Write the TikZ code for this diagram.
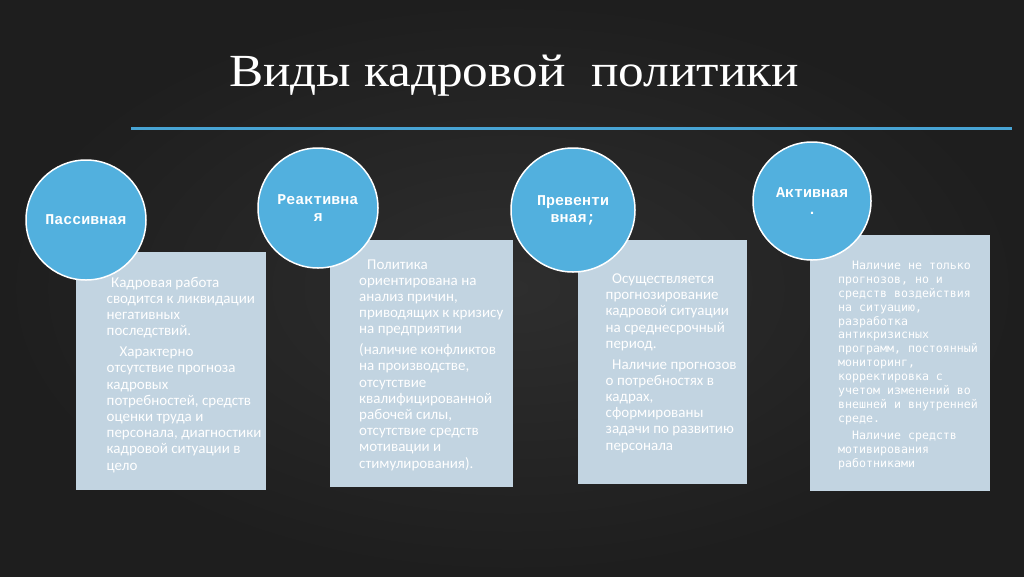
\documentclass[tikz,border=0pt]{standalone}
\usepackage{fontspec}
\newfontfamily\ttlfont{Liberation Serif}
\newfontfamily\cardfont{Carlito}
\newfontfamily\cardmono{DejaVu Sans Mono}
\newfontfamily\circfont{Liberation Mono}
\definecolor{chalkbg}{RGB}{46,46,46}
\definecolor{chalkedge}{RGB}{30,30,30}
\definecolor{discblue}{RGB}{82,176,222}
\definecolor{cardblue}{RGB}{194,212,225}
\definecolor{ruleblue}{RGB}{72,164,212}
\tikzset{
  disc/.style={circle, fill=discblue, draw=white, line width=1.5pt, minimum size=120pt,
    inner sep=0pt, text=white, align=center, font=\circfont\bfseries\fontsize{15}{17}\selectfont},
  card/.style={rectangle, fill=cardblue, inner sep=0pt, anchor=north west},
  cardtext/.style={text=white, align=left, inner sep=0pt, anchor=base west,
    font=\cardfont\fontsize{15}{16.2}\selectfont},
  monotext/.style={text=white, align=left, inner sep=0pt, anchor=base west,
    font=\cardmono\fontsize{11.6}{13.9}\selectfont}
}
\begin{document}
\begin{tikzpicture}[x=1pt,y=-1pt]
\shade[inner color=chalkbg, outer color=chalkedge] (0,0) rectangle (1024,576);
\useasboundingbox (0,0) rectangle (1024,576);
\node[text=white, inner sep=0pt, anchor=base west, font=\ttlfont\fontsize{46}{50}\selectfont] (title) at (229,86)
  {\scalebox{1.115}[1]{Виды кадровой\ \ политики}};
\draw[ruleblue, line width=3pt] (131,128.6) -- (1012,128.6);

\node[card, minimum width=190pt, minimum height=238pt] (card1) at (76,252) {};
\node[card, minimum width=183pt, minimum height=247pt] (card2) at (330,240) {};
\node[card, minimum width=169pt, minimum height=244pt] (card3) at (578,240) {};
\node[card, minimum width=180pt, minimum height=256pt] (card4) at (810,235) {};

% base anchor sits on the last line
\node[cardtext] (text1) at (106.5,470) {\hspace{4.5pt}Кадровая работа\\ сводится к ликвидации\\ негативных\\ последствий.\\[4.5pt]
  \hspace{13pt}Характерно\\ отсутствие прогноза\\ кадровых\\ потребностей, средств\\ оценки труда и\\ персонала, диагностики\\ кадровой ситуации в\\ цело};
\node[cardtext] (text2) at (359,468) {\hspace{8pt}Политика\\ ориентирована на\\ анализ причин,\\ приводящих к кризису\\ на предприятии\\[4.5pt]
  (наличие конфликтов\\ на производстве,\\ отсутствие\\ квалифицированной\\ рабочей силы,\\ отсутствие средств\\ мотивации и\\ стимулирования).};
\node[cardtext] (text3) at (605.5,450) {\hspace{6.5pt}Осуществляется\\ прогнозирование\\ кадровой ситуации\\ на среднесрочный\\ период.\\[4.5pt]
  \hspace{6.5pt}Наличие прогнозов\\ о потребностях в\\ кадрах,\\ сформированы\\ задачи по развитию\\ персонала};
\node[monotext] (text4) at (838,467) {\hspace{14pt}Наличие не только\\ прогнозов, но и\\ средств воздействия\\ на ситуацию,\\ разработка\\ антикризисных\\ программ, постоянный\\ мониторинг,\\ корректировка с\\ учетом изменений во\\ внешней и внутренней\\ среде.\\[3pt]
  \hspace{14pt}Наличие средств\\ мотивирования\\ работниками};

\node[disc] (passive) at (86,220) {\raisebox{-3pt}{Пассивная}};
\node[disc] (reactive) at (318,208) {\raisebox{-3pt}{Реактивна}\\\raisebox{-3pt}{я}};
\node[disc, minimum size=124pt] (preventive) at (573,210) {\raisebox{-3pt}{Превенти}\\\raisebox{-3pt}{вная;}};
\node[disc, minimum size=118pt] (active) at (812,201) {Активная\\.};
\end{tikzpicture}
\end{document}
